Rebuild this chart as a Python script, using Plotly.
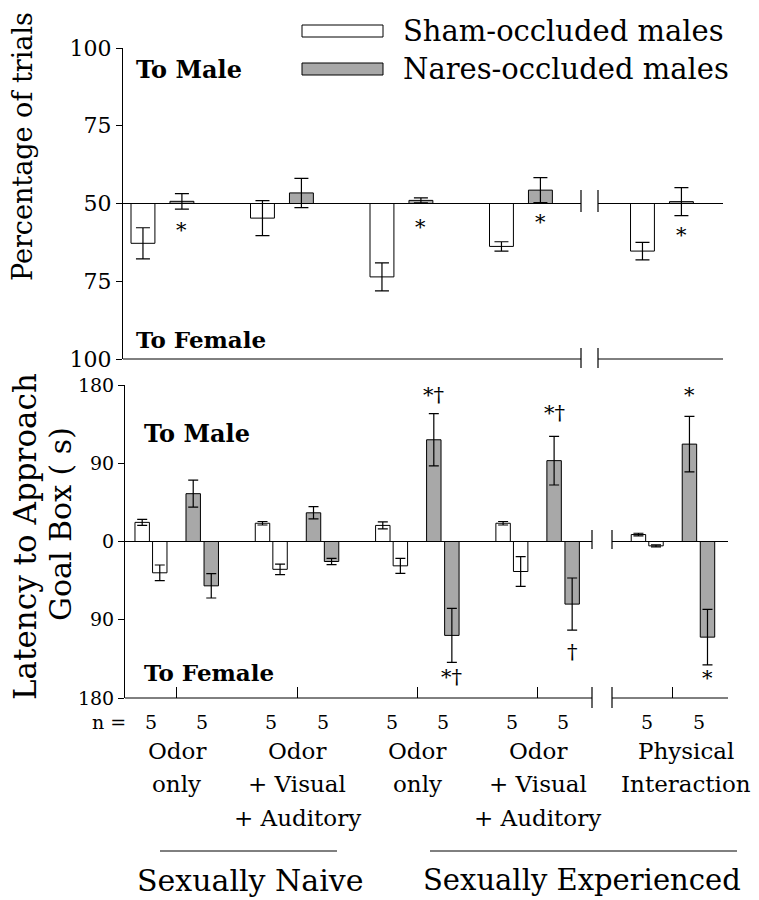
import plotly.graph_objects as go

W, H = 751, 892   # page body adds an 8px margin
FONT = "DejaVu Serif"

# ---------------- data ----------------
group_labels = [["Odor", "only"], ["Odor", "+ Visual", "+ Auditory"],
                ["Odor", "only"], ["Odor", "+ Visual", "+ Auditory"],
                ["Physical", "Interaction"]]
n_sham = [5, 5, 5, 5, 5]
n_nares = [5, 5, 5, 5, 5]
phase_labels = ["Sexually Naive", "Sexually Experienced"]

# Top panel: percentage of trials to male (50 = no preference)
pct_sham = [37.2, 45.3, 26.4, 36.2, 34.7]
pct_sham_err = [5.0, 5.6, 4.5, 1.5, 2.8]
pct_nares = [50.7, 53.4, 51.0, 54.3, 50.6]
pct_nares_err = [2.5, 4.7, 0.8, 4.0, 4.5]
top_sig = ["*", "", "*", "*", "*"]
top_sig_y = [-8.5, 0, -7.5, -6.0, -10.0]

# Bottom panel: latency (s) to approach goal box
lat_sham_male = [22, 21, 18.5, 21, 8]
lat_sham_male_err = [3.5, 2, 4, 2, 1.5]
lat_sham_female = [36, 32, 28, 34.5, 5]
lat_sham_female_err = [9, 6, 8.6, 17, 1.2]
lat_nares_male = [55, 33, 117, 93, 112]
lat_nares_male_err = [15.5, 7, 30, 28, 32]
lat_nares_female = [51, 23, 108, 72, 110]
lat_nares_female_err = [14, 3.5, 31, 30, 32]
sig_male = ["", "", "*†", "*†", "*"]
sig_male_y = [0, 0, 168, 148, 168]
sig_female = ["", "", "*†", "†", "*"]
sig_female_y = [0, 0, -156, -127, -157]

top_yticks = [50, 25, 0, -25, -50]
top_yticktext = ["100", "75", "50", "75", "100"]
bot_yticks = [180, 90, 0, -90, -180]
bot_yticktext = ["180", "90", "0", "90", "180"]

SHAM_COLOR = "white"
NARES_COLOR = "#a8a8a8"


def px(x):
    return (x - 8) / W


def py(y):
    return 1 - (y - 8) / H


# group centres (break before last group)
top_c = [g + 0.33 + (0.18 if g == 4 else 0) for g in range(5)]
bot_c = [g + 0.43 + (0.125 if g == 4 else 0) for g in range(5)]

fig = go.Figure()
line = dict(color="black", width=1)

fig.add_trace(go.Bar(x=[c - 0.163 for c in top_c], y=[p - 50 for p in pct_sham], width=0.2,
                     marker=dict(color=SHAM_COLOR, line=line),
                     error_y=dict(type="data", array=pct_sham_err, color="black", thickness=1.2, width=7),
                     xaxis="x", yaxis="y", name="Sham-occluded males", showlegend=False))
fig.add_trace(go.Bar(x=[c + 0.163 for c in top_c], y=[p - 50 for p in pct_nares], width=0.2,
                     marker=dict(color=NARES_COLOR, line=line),
                     error_y=dict(type="data", array=pct_nares_err, color="black", thickness=1.2, width=7),
                     xaxis="x", yaxis="y", name="Nares-occluded males", showlegend=False))

bw = 0.12
specs = [
    (-0.287, lat_sham_male, lat_sham_male_err, 1, SHAM_COLOR),
    (-0.141, lat_sham_female, lat_sham_female_err, -1, SHAM_COLOR),
    (0.137, lat_nares_male, lat_nares_male_err, 1, NARES_COLOR),
    (0.287, lat_nares_female, lat_nares_female_err, -1, NARES_COLOR),
]
for off, vals, errs, sign, col in specs:
    fig.add_trace(go.Bar(x=[c + off for c in bot_c], y=[sign * v for v in vals], width=bw,
                         marker=dict(color=col, line=line),
                         error_y=dict(type="data", array=errs, color="black", thickness=1.2, width=5),
                         xaxis="x2", yaxis="y2", showlegend=False))

fig.update_layout(
    width=W, height=H, margin=dict(l=0, r=0, t=0, b=0, pad=0, autoexpand=False),
    paper_bgcolor="white", plot_bgcolor="white", barmode="overlay", showlegend=False,
    font=dict(family=FONT, color="black"),
    xaxis=dict(domain=[px(123), px(723)], range=[0, 600 / 119.5], visible=False, fixedrange=True),
    yaxis=dict(domain=[py(359), py(48)], range=[-50, 50], tickvals=top_yticks, ticktext=top_yticktext,
               ticks="outside", ticklen=6, tickcolor="black", showline=True, linecolor="black",
               linewidth=1, showgrid=False, zeroline=False,
               tickfont=dict(family=FONT, size=22, color="black")),
    xaxis2=dict(domain=[px(125), px(728)], range=[0, 603 / 120.3], anchor="y2", showline=False,
                showgrid=False, zeroline=False, ticks="inside", ticklen=11, tickcolor="black",
                tickvals=bot_c, showticklabels=False),
    yaxis2=dict(domain=[py(698), py(385)], range=[-180, 180], anchor="x2", tickvals=bot_yticks,
                ticktext=bot_yticktext, ticks="outside", ticklen=6, tickcolor="black", showline=True,
                linecolor="black", linewidth=1, showgrid=False, zeroline=False,
                tickfont=dict(family=FONT, size=19, color="black")),
)

shapes = []


def hline(x0, x1, y, yref="paper"):
    shapes.append(dict(type="line", xref="paper", yref=yref, x0=px(x0), x1=px(x1), y0=y, y1=y, line=line))


def vline(x, y0, y1):
    shapes.append(dict(type="line", xref="paper", yref="paper", x0=px(x), x1=px(x), y0=py(y0), y1=py(y1),
                       line=dict(color="black", width=1.2)))


# top panel baseline and bottom line with break
hline(123, 581, 0, "y"); hline(598, 723, 0, "y")
hline(123, 581, py(359)); hline(598, 723, py(359))
for bx in (581, 598):
    vline(bx, 190, 212); vline(bx, 348, 368)
# bottom panel
hline(125, 592, 0, "y2"); hline(612, 728, 0, "y2")
hline(125, 592, py(698)); hline(612, 728, py(698))
for bx in (592, 612):
    vline(bx, 530, 549); vline(bx, 687, 708)
# group brackets
hline(160, 337, py(851)); hline(430, 737, py(851))
# legend boxes
shapes.append(dict(type="rect", xref="paper", yref="paper", x0=px(302), x1=px(383), y0=py(37), y1=py(25),
                   line=line, fillcolor=SHAM_COLOR))
shapes.append(dict(type="rect", xref="paper", yref="paper", x0=px(302), x1=px(383), y0=py(75), y1=py(63),
                   line=line, fillcolor=NARES_COLOR))
fig.update_layout(shapes=shapes)

ann = []


def text(x, y, t, size, xanchor="center", yanchor="middle", bold=False, angle=0, xref="paper", yref="paper",
         xshift=0):
    if bold:
        t = "<b>" + t + "</b>"
    ann.append(dict(x=x, y=y, xref=xref, yref=yref, text=t, showarrow=False, xanchor=xanchor,
                    yanchor=yanchor, textangle=angle, xshift=xshift,
                    font=dict(family=FONT, size=size, color="black")))


# legend text
text(px(401), py(31), "Sham-occluded males", 29, xanchor="left")
text(px(401), py(69), "Nares-occluded males", 29, xanchor="left")
# y titles
text(px(23), py(147), "Percentage of trials", 27, angle=-90)
text(px(25), py(537), "Latency to Approach", 31, angle=-90)
text(px(60), py(524), "Goal Box ( s)", 30, angle=-90)
# direction labels
text(px(134), py(70), "To Male", 24, xanchor="left", bold=True)
text(px(134), py(340), "To Female", 23, xanchor="left", bold=True)
text(px(142), py(433), "To Male", 24, xanchor="left", bold=True)
text(px(142), py(672), "To Female", 23, xanchor="left", bold=True)
# significance marks
for c, s, y in zip(top_c, top_sig, top_sig_y):
    if s:
        text(c + 0.163, y, s, 21, xref="x", yref="y")
for c, s, y in zip(bot_c, sig_male, sig_male_y):
    if s:
        text(c + 0.137, y, s, 21, xref="x2", yref="y2")
for c, s, y in zip(bot_c, sig_female, sig_female_y):
    if s:
        text(c + 0.287, y, s, 21, xref="x2", yref="y2")
# n labels
text(px(128), py(722), "n =", 19, xanchor="right")
for c, a, b in zip(bot_c, n_sham, n_nares):
    text(c - 0.214, py(722), str(a), 19, xref="x2")
    text(c + 0.213, py(722), str(b), 19, xref="x2")
# category labels, one line each
line_y = [751, 784, 818]
for i, (c, lab) in enumerate(zip(bot_c, group_labels)):
    for j, part in enumerate(lab):
        text(c, py(line_y[j]), part, 23, xref="x2", xshift=13 if i == 4 else 0)
# phase labels
text(px(250), py(880), phase_labels[0], 30)
text(px(582), py(880), phase_labels[1], 29)

fig.update_layout(annotations=ann)
fig.write_html("out.html")
